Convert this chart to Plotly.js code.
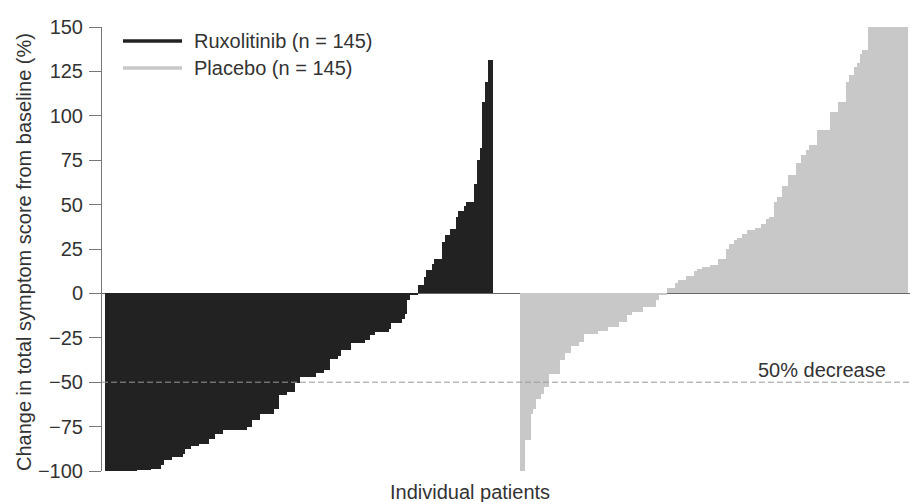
<!DOCTYPE html>
<html>
<head>
<meta charset="utf-8">
<script src="https://cdn.plot.ly/plotly-3.0.1.min.js"></script>
<style>html,body{margin:0;padding:0;background:#fff;}#chart{width:910px;height:502px;}</style>
</head>
<body>
<div id="chart"></div>
<script>
// Segments [count, value], sorted ascending (waterfall)
const ruxSegments = [
  [12,-100],[5,-99.3],[4,-98.6],[1,-96.8],[3,-94],[4,-92.2],[1,-90.3],[2,-87.5],[3,-86.1],
  [4,-84.6],[2,-81.8],[3,-79],[9,-77.1],[2,-75.3],[3,-71.5],[5,-67.7],[2,-64.9],[3,-57.4],
  [3,-55.6],[2,-50.5],[6,-47.1],[3,-44.9],[2,-43],[3,-36.8],[1,-35.5],[4,-32.1],[5,-28],
  [2,-26],[2,-23.6],[5,-21.8],[1,-19.9],[4,-16.7],[1,-14.3],[1,-11.4],[1,-3.9],[3,-1.1],
  [2,4.5],[1,9.2],[2,12.9],[1,16.3],[3,19.5],[1,28.9],[2,32.7],[2,36.4],[1,43],[2,46.3],
  [1,49.2],[3,51.4],[1,61.4],[1,74.9],[1,82],[1,107.7],[1,119],[2,131.6]
];
const placeboSegments = [
  [2,-100],[2,-82.4],[1,-67.8],[1,-65],[2,-59.3],[1,-56.5],[2,-52.7],[4,-45.2],[2,-37.3],
  [2,-33.6],[3,-29.8],[2,-27.4],[5,-22.7],[4,-21.2],[4,-19],[3,-16.2],[2,-12],[4,-10.5],
  [5,-7.7],[1,-3.9],[3,-1.1],[3,3],[1,5.8],[3,7.3],[3,9.6],[1,12.6],[2,13.9],[3,14.8],
  [3,15.8],[3,19.5],[1,25.2],[2,27.6],[1,29.8],[2,31.4],[2,33.2],[3,35.5],[2,37],[2,38.9],
  [1,42.1],[2,43],[1,51.4],[2,54.2],[2,60.4],[3,66.4],[2,73.4],[2,77.7],[1,80.5],[3,83.3],
  [5,91.8],[3,102],[3,107.7],[1,119],[2,122.7],[1,127.4],[1,129.7],[1,135],[2,136.8],[15,150]
];
const seriesNames = ['Ruxolitinib (n = 145)', 'Placebo (n = 145)'];
const yTicks = [-100, -75, -50, -25, 0, 25, 50, 75, 100, 125, 150];
const yTickLabels = ['\u2212100', '\u221275', '\u221250', '\u221225', '0', '25', '50', '75', '100', '125', '150'];

function expand(segs) {
  const out = [];
  segs.forEach(([n, v]) => { for (let k = 0; k < n; k++) out.push(v); });
  return out;
}
const ruxValues = expand(ruxSegments);
const placeboValues = expand(placeboSegments);

const GAP = 155; // patient slot where placebo group starts
const ruxX = ruxValues.map((_, i) => i);
const placeboX = placeboValues.map((_, i) => i + GAP);

const RUX_COLOR = '#222222';
const PBO_COLOR = '#c8c8c8';
const FONT = 'Liberation Sans, Arial, Helvetica, sans-serif';
const FS = 20;

const traces = [
  {type: 'bar', x: ruxX, y: ruxValues, width: 1, marker: {color: RUX_COLOR, line: {width: 0}}, name: seriesNames[0], showlegend: false, hoverinfo: 'y'},
  {type: 'bar', x: placeboX, y: placeboValues, width: 1, marker: {color: PBO_COLOR, line: {width: 0}}, name: seriesNames[1], showlegend: false, hoverinfo: 'y'}
];

const L = 102, T = 27, W = 808, H = 444;
const px = x => (x - L) / W;
const py = y => (T + H - y) / H;

const layout = {
  width: 910, height: 502,
  margin: {l: L, r: 0, t: T, b: 502 - T - H, pad: 0},
  paper_bgcolor: '#fff', plot_bgcolor: '#fff',
  font: {family: FONT, size: FS, color: '#333'},
  bargap: 0,
  showlegend: false,
  xaxis: {range: [-1.62, 300.25], showticklabels: false, ticks: '', showgrid: false, zeroline: false, showline: false, fixedrange: true},
  yaxis: {
    range: [-100, 150], tickvals: yTicks, ticktext: yTickLabels,
    ticks: 'outside', ticklen: 12, tickwidth: 1, tickcolor: '#777',
    showline: true, linecolor: '#777', linewidth: 1,
    showgrid: false, zeroline: true, zerolinecolor: '#666', zerolinewidth: 1,
    tickfont: {family: FONT, size: FS, color: '#333'}, ticklabelstandoff: 2,
    fixedrange: true
  },
  shapes: [
    {type: 'line', xref: 'paper', yref: 'y', x0: 0, x1: 1, y0: -50, y1: -50, line: {color: '#999', width: 1, dash: '6px,3px'}, layer: 'above'},
    {type: 'line', xref: 'paper', yref: 'paper', x0: px(123), x1: px(182), y0: py(41), y1: py(41), line: {color: RUX_COLOR, width: 3.5}},
    {type: 'line', xref: 'paper', yref: 'paper', x0: px(123), x1: px(182), y0: py(68), y1: py(68), line: {color: PBO_COLOR, width: 3.5}}
  ],
  annotations: [
    {xref: 'paper', yref: 'paper', x: px(192), y: py(41), xanchor: 'left', yanchor: 'middle', text: seriesNames[0], showarrow: false, font: {family: FONT, size: FS, color: '#333'}},
    {xref: 'paper', yref: 'paper', x: px(192), y: py(68), xanchor: 'left', yanchor: 'middle', text: seriesNames[1], showarrow: false, font: {family: FONT, size: FS, color: '#333'}},
    {xref: 'paper', yref: 'paper', x: px(888), y: py(370), xanchor: 'right', yanchor: 'middle', text: '50% decrease', showarrow: false, font: {family: FONT, size: FS, color: '#333'}},
    {xref: 'paper', yref: 'paper', x: px(470), y: py(492), xanchor: 'center', yanchor: 'middle', text: 'Individual patients', showarrow: false, font: {family: FONT, size: FS, color: '#333'}},
    {xref: 'paper', yref: 'paper', x: px(24), y: py(252), xanchor: 'center', yanchor: 'middle', textangle: -90, text: 'Change in total symptom score from baseline (%)', showarrow: false, font: {family: FONT, size: FS, color: '#333'}}
  ]
};

Plotly.newPlot('chart', traces, layout, {displayModeBar: false, staticPlot: true});
</script>
</body>
</html>
